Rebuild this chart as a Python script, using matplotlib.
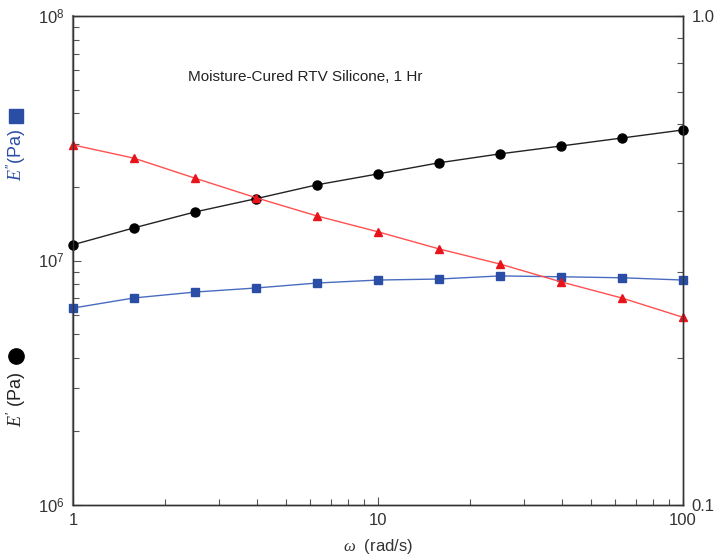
import numpy as np
import matplotlib.pyplot as plt
from matplotlib.lines import Line2D
from matplotlib.ticker import LogLocator, FixedLocator, NullFormatter, FuncFormatter

plt.rcParams['font.family'] = ['Liberation Sans', 'DejaVu Sans']
plt.rcParams['mathtext.fontset'] = 'custom'
plt.rcParams['mathtext.rm'] = 'Liberation Sans'
plt.rcParams['mathtext.it'] = 'Liberation Serif:italic'

# frequency sweep, rad/s
omega = [1.0, 1.585, 2.512, 3.981, 6.310, 10.0, 15.85, 25.12, 39.81, 63.10, 100.0]
# storage modulus E' (Pa)
e_storage = [1.16e7, 1.36e7, 1.58e7, 1.79e7, 2.04e7, 2.26e7, 2.51e7, 2.73e7, 2.94e7, 3.17e7, 3.42e7]
# loss modulus E'' (Pa)
e_loss = [6.39e6, 7.03e6, 7.43e6, 7.72e6, 8.09e6, 8.32e6, 8.40e6, 8.65e6, 8.58e6, 8.50e6, 8.32e6]
# loss tangent, right axis
tan_delta = [0.545, 0.512, 0.466, 0.425, 0.390, 0.362, 0.334, 0.311, 0.286, 0.265, 0.242]

fig = plt.figure(figsize=(7.17, 5.56), dpi=100)
ax = fig.add_axes([0.1018, 0.0917, 0.8508, 0.8795])
ax2 = ax.twinx()

ax.plot(omega, e_storage, color='#222222', lw=1.0, marker='o', ms=6.5,
        mfc='black', mec='black', zorder=3, clip_on=False)
ax.plot(omega, e_loss, color='#4a6cc0', lw=1.0, marker='s', ms=5.5,
        mfc='#2a4ea6', mec='#2a4ea6', zorder=3, clip_on=False)
ax2.plot(omega, tan_delta, color='#ff5050', lw=1.0, marker='^', ms=6,
         mfc='#e8141c', mec='#e8141c', clip_on=False)

ax.set_xscale('log')
ax.set_yscale('log')
ax2.set_yscale('log')
ax.set_xlim(1, 100)
ax.set_ylim(1e6, 1e8)
ax2.set_ylim(0.1, 1.0)

grey = '#555555'
for a in (ax, ax2):
    for s in a.spines.values():
        s.set_color('#333333')
        s.set_linewidth(1.0)
ax.spines['left'].set_color('#888888')
ax.spines['left'].set_linewidth(1.6)

def pow_fmt(v, pos):
    return r'$10^{%d}$' % int(round(np.log10(v)))

ax.yaxis.set_major_locator(FixedLocator([1e6, 1e7, 1e8]))
ax.yaxis.set_major_formatter(FuncFormatter(pow_fmt))
ax.yaxis.set_minor_locator(LogLocator(base=10, subs=np.arange(2, 10)))
ax.yaxis.set_minor_formatter(NullFormatter())

ax.xaxis.set_major_locator(FixedLocator([1, 10, 100]))
ax.xaxis.set_major_formatter(FuncFormatter(lambda v, p: '%d' % v))
ax.xaxis.set_minor_locator(LogLocator(base=10, subs=np.arange(2, 10)))
ax.xaxis.set_minor_formatter(NullFormatter())

ax2.yaxis.set_major_locator(FixedLocator([0.1, 1.0]))
ax2.yaxis.set_major_formatter(FuncFormatter(lambda v, p: '%.1f' % v))
ax2.yaxis.set_minor_locator(LogLocator(base=10, subs=np.arange(2, 10)))
ax2.yaxis.set_minor_formatter(NullFormatter())

for a in (ax, ax2):
    a.tick_params(which='major', direction='in', length=6, width=0.8,
                  color=grey, labelsize=12, labelcolor='#333333', pad=6)
    a.tick_params(which='minor', direction='in', length=4, width=0.8, color=grey)
ax.tick_params(axis='x', which='both', top=False)

ax.set_xlabel(r'$\omega$  (rad/s)', fontsize=12, color='#333333', labelpad=6)

ax.text(0.188, 0.868, 'Moisture-Cured RTV Silicone, 1 Hr', transform=ax.transAxes,
        fontsize=11, color='#222222')

# stacked y-axis labels on the left, each with its series symbol
fig.text(0.023, 0.282, r"$E'$ (Pa)", rotation=90, fontsize=13, color='#222222',
         ha='center', va='center')
fig.add_artist(Line2D([0.023], [0.36], marker='o', ms=11, color='black',
                      transform=fig.transFigure))
fig.text(0.023, 0.721, r"$E''$(Pa)", rotation=90, fontsize=13, color='#2a4ea6',
         ha='center', va='center')
fig.add_artist(Line2D([0.023], [0.792], marker='s', ms=10, color='#2a4ea6',
                      transform=fig.transFigure))

fig.savefig('out.png', dpi=100)
